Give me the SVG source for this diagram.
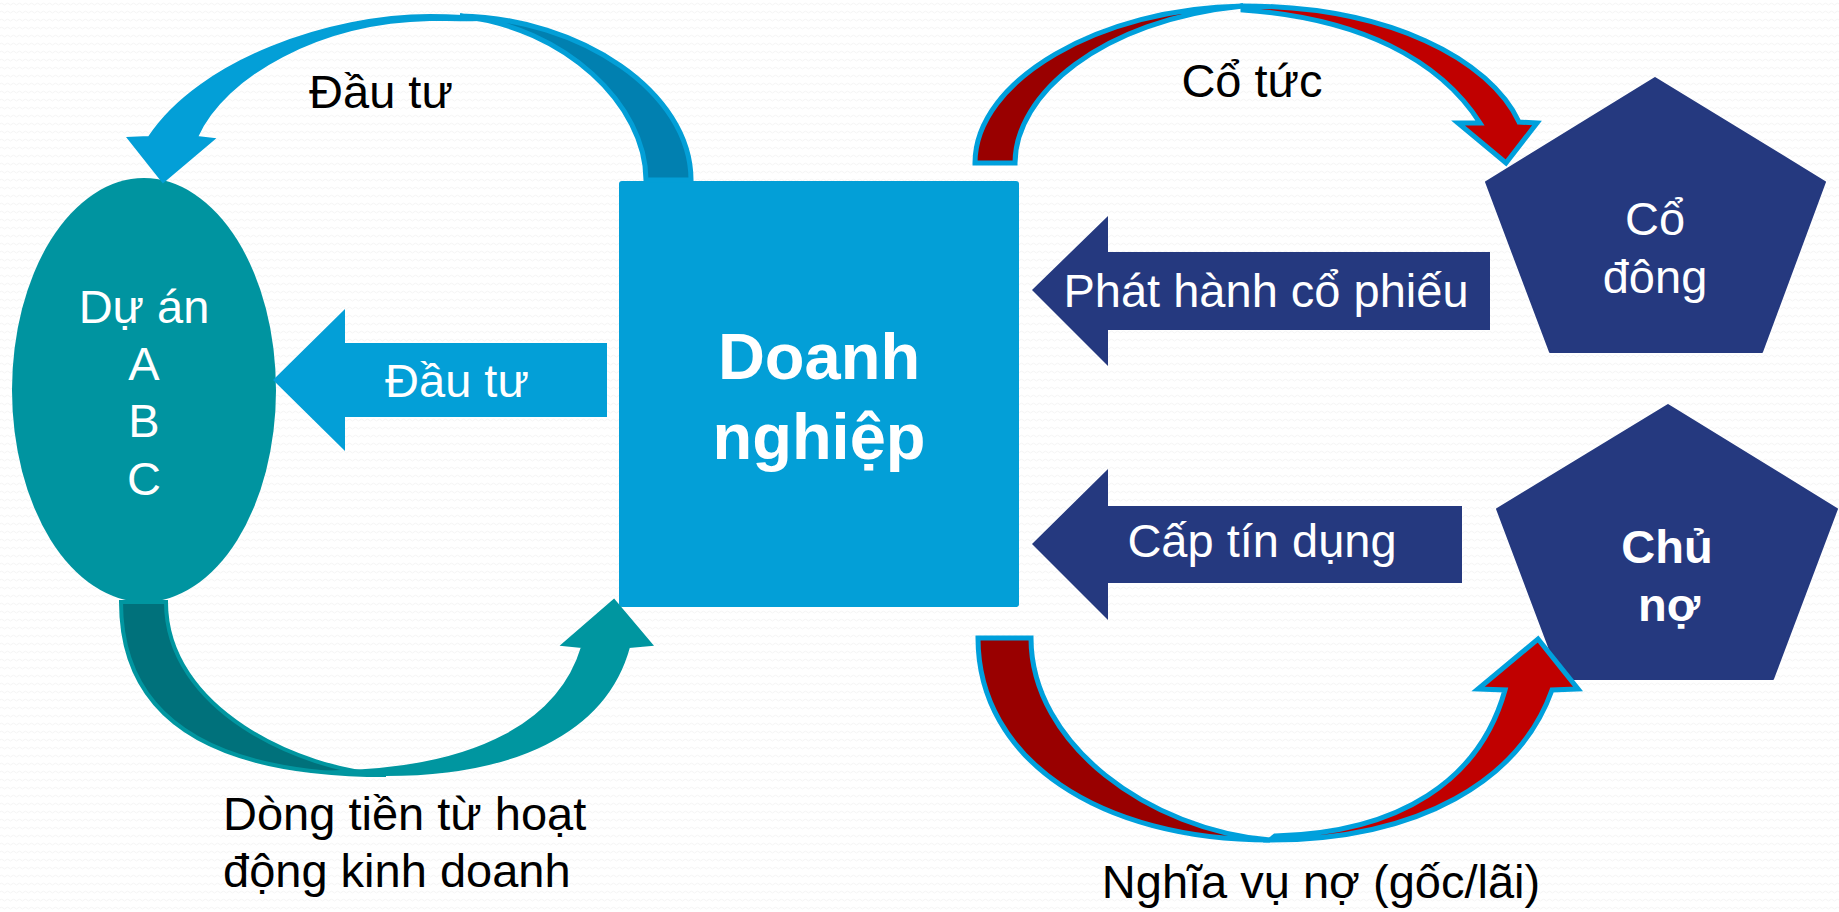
<svg xmlns="http://www.w3.org/2000/svg" width="1839" height="912" viewBox="0 0 1839 912">
<defs>
<pattern id="bgwave" width="6" height="8" patternUnits="userSpaceOnUse">
<path d="M0 4 Q1.5 2 3 4 T6 4" fill="none" stroke="#f1f1f1" stroke-width="0.8"/>
</pattern>
</defs>
<style>
.t{font-family:"Liberation Sans",Arial,sans-serif;font-size:47px;}
.w{fill:#ffffff;}
.k{fill:#000000;}
.b{font-weight:bold;}
.mid{text-anchor:middle;}
.navy{fill:#25397f;}
.lb{fill:#039fd7;}
.redStroke{stroke:#00a0dc;stroke-width:5;stroke-linejoin:miter;stroke-miterlimit:4;}
</style>
<rect x="0" y="0" width="1839" height="912" fill="#ffffff"/>
<rect x="0" y="0" width="1839" height="912" fill="url(#bgwave)"/>

<g id="node-duan">
<ellipse cx="144" cy="390" rx="132" ry="212" fill="#0094a0"/>
<text class="t w mid" x="144" y="323">Dự án</text>
<text class="t w mid" x="144" y="380">A</text>
<text class="t w mid" x="144" y="437">B</text>
<text class="t w mid" x="144" y="495">C</text>
</g>

<g id="node-doanhnghiep">
<rect x="619" y="181" width="400" height="426" rx="3" class="lb"/>
<text class="t w mid b" style="font-size:65px" x="819" y="379">Doanh</text>
<text class="t w mid b" style="font-size:65px" x="819" y="459">nghiệp</text>
</g>

<g id="node-codong">
<polygon class="navy" points="1655,78 1825,182 1762,352 1550,352 1486,182" stroke="#25397f" stroke-width="2" stroke-linejoin="round"/>
<text class="t w mid" x="1655" y="235">Cổ</text>
<text class="t w mid" x="1655" y="293">đông</text>
</g>

<g id="node-chuno">
<polygon class="navy" points="1668,405 1837,509 1773,679 1561,679 1497,509" stroke="#25397f" stroke-width="2" stroke-linejoin="round"/>
<text class="t w mid b" x="1667" y="563">Chủ</text>
<text class="t w mid b" x="1669" y="621">nợ</text>
</g>

<g id="connectors">
<!-- top curved arrow: Doanh nghiệp -> Dự án -->
<g id="arc-dautu-top">
<path d="M691,180 C691,92 580,18 460,16 C565,27 646,105 646,180 Z" fill="#0180b0" stroke="#039fd7" stroke-width="5" stroke-linejoin="miter" stroke-miterlimit="4"/>
<path d="M496,19 C475,16.5 450,15 430,15 C330,15 200,60 149,137 L128,138 L163,182 L214,139 L197,137 C225,75 320,22 430,20 C452,20 476,21 496,19 Z" fill="#039fd7" stroke="#039fd7" stroke-width="2" stroke-linejoin="miter" stroke-miterlimit="4"/>
<text class="t k mid" x="381" y="108">Đầu tư</text>
</g>

<!-- block arrow Đầu tư -->
<g id="arrow-dautu">
<polygon class="lb" points="273,380 345,309 345,343 607,343 607,417 345,417 345,451"/>
<text class="t w mid" x="457" y="397">Đầu tư</text>
</g>

<!-- bottom teal curved arrow: Dự án -> Doanh nghiệp -->
<g id="arc-dongtien">
<path d="M121,602 C121,730 230,775 386,775 C300,770 166,710 166,602 Z" fill="#00717b" stroke="#0096a0" stroke-width="4" stroke-linejoin="miter" stroke-miterlimit="4"/>
<path d="M319,772 C345,774 365,775 386,775 C510,775 605,735 629,647 L652,645 L614,600 L562,645 L582,647 C560,720 480,768 340,771 Z" fill="#0096a0" stroke="#0096a0" stroke-width="2" stroke-linejoin="miter" stroke-miterlimit="4"/>
<text class="t k" x="223" y="830">Dòng tiền từ hoạt</text>
<text class="t k" x="223" y="887">động kinh doanh</text>
</g>

<!-- red curved arrow: Cổ tức -->
<g id="arc-cotuc">
<path class="redStroke" d="M975,163 C975,80 1100,8 1243,6 C1100,20 1015,95 1015,163 Z" fill="#990000"/>
<path class="redStroke" d="M1243,6 C1390,6 1490,60 1519,122 L1537,123 L1506,163 L1458,123 L1480,123 C1440,60 1360,18 1243,10 Z" fill="#c00000"/>
<text class="t k mid" x="1252" y="97">Cổ tức</text>
</g>

<!-- navy block arrows -->
<g id="arrow-phathanh">
<polygon class="navy" points="1032,290 1108,216 1108,252 1490,252 1490,330 1108,330 1108,366"/>
<text class="t w mid" x="1266" y="307">Phát hành cổ phiếu</text>
</g>
<g id="arrow-captindung">
<polygon class="navy" points="1032,544 1108,469 1108,506 1462,506 1462,583 1108,583 1108,620"/>
<text class="t w mid" x="1262" y="557">Cấp tín dụng</text>
</g>

<!-- red curved arrow: Nghĩa vụ nợ -->
<g id="arc-nghiavu">
<path class="redStroke" d="M978,638 C978,760 1100,840 1270,840 C1150,830 1031,745 1031,638 Z" fill="#990000"/>
<path class="redStroke" d="M1270,840 C1420,840 1520,780 1552,690 L1578,689 L1538,639 L1478,689 L1505,690 C1480,780 1400,833 1275,836 Z" fill="#c00000"/>
<text class="t k mid" x="1321" y="898">Nghĩa vụ nợ (gốc/lãi)</text>
</g>
</g>
</svg>
